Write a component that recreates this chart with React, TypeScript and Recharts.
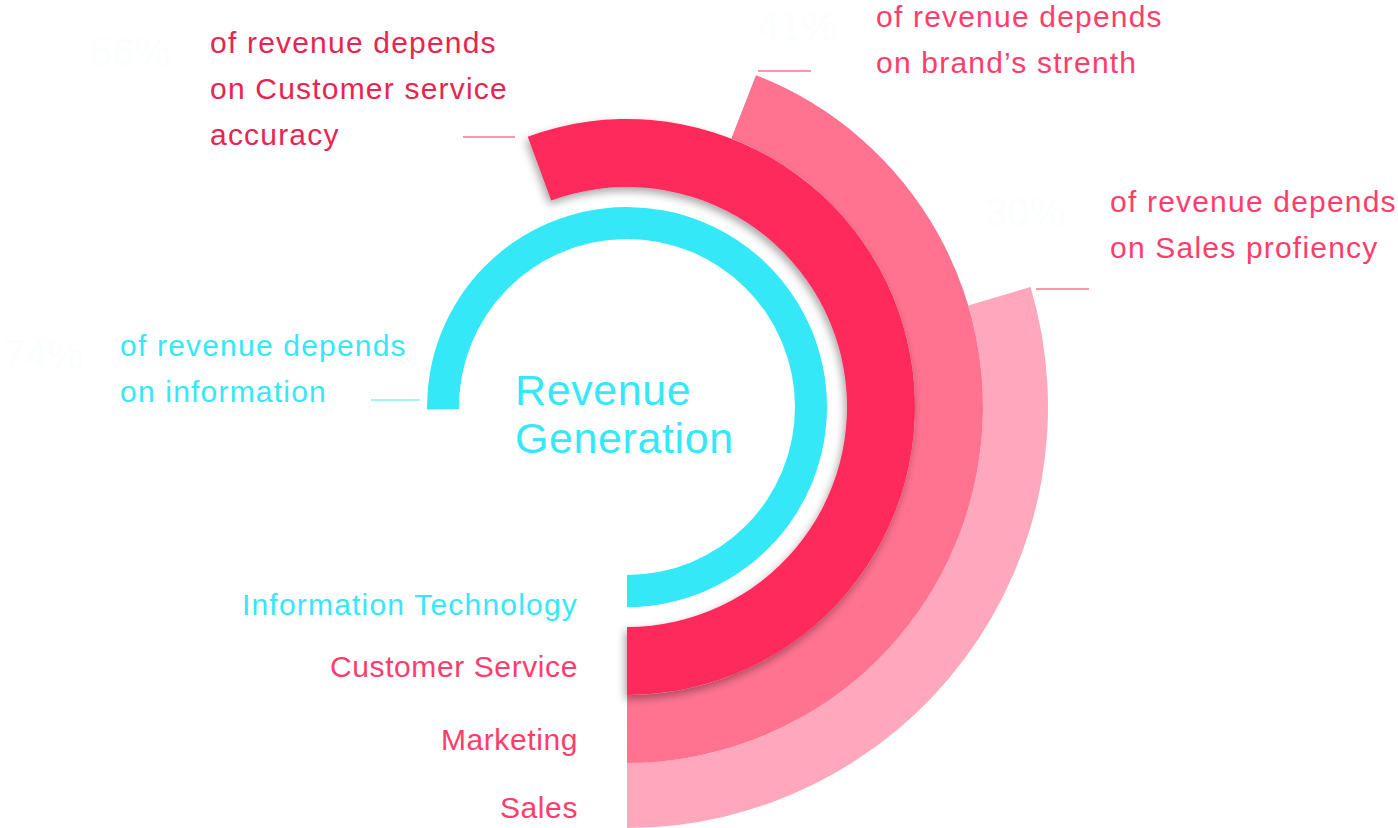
import { PieChart, Pie, Cell } from "recharts";

// share of the full circle covered by each ring
const rings = ["Sales", "Marketing", "Customer Service", "Information Technology"];
const ringValues = [29.6, 44.1, 55.6, 75.2];
const ringColors = ["#FFA8BD", "#FF7391", "#FF2A5C", "#35E8F8"];
const innerR = [356, 288, 220, 168];
const outerR = [421, 356, 288, 200];

// texts next to the arcs
const percentLabels = ["30%", "41%", "56%", "74%"];
const noteLines = [
  ["of revenue depends", "on Sales profiency"],
  ["of revenue depends", "on brand’s strenth"],
  ["of revenue depends", "on Customer service", "accuracy"],
  ["of revenue depends", "on information"],
];
const noteColors = ["#FF3D6C", "#FF3D6C", "#E8244F", "#35E8F8"];

// chart has a 5px default margin, so the centre is given relative to it
const CX = 622;
const CY = 402;

const notePos = [
  { x: 1110, y: 212, px: 985, py: 226, lx1: 1036, lx2: 1089, ly: 289 },
  { x: 876, y: 27, px: 757, py: 40, lx1: 758, lx2: 811, ly: 71 },
  { x: 210, y: 53, px: 90, py: 66, lx1: 463, lx2: 515, ly: 137 },
  { x: 120, y: 356, px: 3, py: 368, lx1: 371, lx2: 420, ly: 400 },
];
const legendY = [818, 750, 677, 615];

const font = "'Liberation Sans', Arial, sans-serif";

export default function App() {
  return (
    <div style={{ position: "fixed", left: 0, top: 0, width: 1398, height: 828, background: "#fff" }}>
      <svg width={0} height={0} style={{ position: "absolute" }}>
        <defs>
          <filter id="ringShadow" x="-20%" y="-20%" width="140%" height="140%">
            <feDropShadow dx={-2} dy={4} stdDeviation={4} floodColor="#000" floodOpacity={0.35} />
          </filter>
        </defs>
      </svg>
      <div style={{ position: "absolute", left: 0, top: 0 }}>
        <PieChart width={1398} height={828}>
          {rings.map((name, i) => (
            <Pie
              key={name}
              data={[
                { name, value: ringValues[i] },
                { name: "rest", value: 100 - ringValues[i] },
              ]}
              dataKey="value"
              cx={CX}
              cy={CY}
              innerRadius={innerR[i]}
              outerRadius={outerR[i]}
              startAngle={-90}
              endAngle={270}
              stroke="none"
              isAnimationActive={false}
            >
              <Cell fill={ringColors[i]} filter={i === 2 ? "url(#ringShadow)" : undefined} />
              <Cell fill="transparent" />
            </Pie>
          ))}
        </PieChart>
      </div>
      <svg width={1398} height={828} style={{ position: "absolute", left: 0, top: 0, pointerEvents: "none" }}>
        <text x={515} y={405} fill="#35E8F8" fontFamily={font} fontSize={43} letterSpacing={0.6}>Revenue</text>
        <text x={515} y={453} fill="#35E8F8" fontFamily={font} fontSize={43} letterSpacing={0.6}>Generation</text>
        {rings.map((name, i) => (
          <text key={name} x={578} y={legendY[i]} textAnchor="end" fill={i === 3 ? "#35E8F8" : "#FF3D6C"} fontFamily={font} fontSize={30} letterSpacing={i === 3 ? 1.2 : 0.6}>
            {name}
          </text>
        ))}
        {noteLines.map((lines, i) => (
          <g key={i}>
            {lines.map((t, j) => (
              <text key={j} x={notePos[i].x} y={notePos[i].y + j * 46} fill={noteColors[i]} fontFamily={font} fontSize={30} letterSpacing={1.2}>
                {t}
              </text>
            ))}
            <text x={notePos[i].px} y={notePos[i].py} fill="#FBFEFC" fontFamily={font} fontSize={40}>
              {percentLabels[i]}
            </text>
            <line x1={notePos[i].lx1} x2={notePos[i].lx2} y1={notePos[i].ly} y2={notePos[i].ly} stroke={i === 3 ? "#7FEFFA" : "#FF7391"} strokeWidth={1.5} />
          </g>
        ))}
      </svg>
    </div>
  );
}
